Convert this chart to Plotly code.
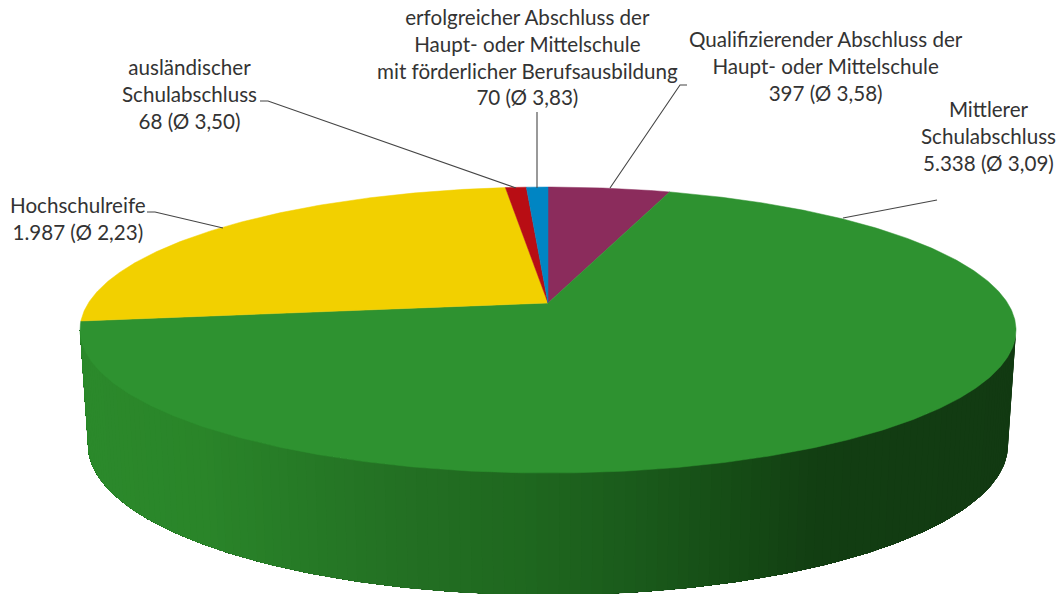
import math
import plotly.graph_objects as go

# --- data ---
categories = [
    "Qualifizierender Abschluss der<br>Haupt- oder Mittelschule",
    "Mittlerer<br>Schulabschluss",
    "Hochschulreife",
    "ausländischer<br>Schulabschluss",
    "erfolgreicher Abschluss der<br>Haupt- oder Mittelschule<br>mit förderlicher Berufsausbildung",
]
values = [397, 5338, 1987, 68, 70]
averages = [3.58, 3.09, 2.23, 3.50, 3.83]
colors = ["#8B2C5C", "#2E9230", "#F2D000", "#B80D14", "#0085C3"]
label_x = [826, 988, 78, 189, 527]
label_y = [65.5, 135.5, 218.5, 93.5, 56.5]
leaders = [
    ([610, 680, 687], [188, 85, 85]),
    ([937, 843], [200, 218]),
    ([147, 155, 223], [212, 212, 228]),
    ([260, 268, 516], [101, 101, 188]),
    ([537, 537], [112, 188]),
]
# wall shading: screen x -> colour
wall_stops = [(85, (43, 137, 43)), (200, (42, 133, 41)), (300, (38, 122, 38)),
              (400, (35, 112, 35)), (520, (31, 104, 31)), (640, (26, 90, 27)),
              (740, (21, 75, 21)), (820, (18, 62, 18)), (1010, (18, 58, 18))]

# --- perspective disc ---
CX, TOP_Y = 548.0, 303.0
K = -0.189
TOP_A, TOP_D = 137.9, 459.6
BOT_Y, BOT_A, BOT_D = 416.6, 144.7, 451.7


def project(theta, y0, a, d):
    u, v = math.sin(theta), -math.cos(theta)
    w = 1 + K * v
    return CX + d * u / w, y0 + a * v / w


def wall_color(x):
    for (x0, c0), (x1, c1) in zip(wall_stops, wall_stops[1:]):
        if x <= x1:
            t = max(0.0, (x - x0) / (x1 - x0))
            return "rgb(%d,%d,%d)" % tuple(round(p + (q - p) * t) for p, q in zip(c0, c1))
    return "rgb(%d,%d,%d)" % wall_stops[-1][1]


fig = go.Figure()
total = sum(values)

# side wall: painted right to left, each band running on to the left silhouette,
# so neighbouring bands never leave a seam
t_start = math.acos(K)
t_end = 2 * math.pi - t_start
N = 140
for i in range(N):
    a0 = t_start + (t_end - t_start) * i / N
    arc = [t_start + (t_end - t_start) * j / 240 for j in range(241)]
    arc = [a0] + [t for t in arc if t > a0]
    top = [project(t, TOP_Y, TOP_A, TOP_D) for t in arc]
    bot = [project(t, BOT_Y, BOT_A, BOT_D) for t in arc[::-1]]
    pts = top + bot + top[:1]
    col = wall_color(top[0][0] - 4)
    fig.add_trace(go.Scatter(
        x=[q[0] for q in pts], y=[q[1] for q in pts],
        mode="lines", fill="toself", fillcolor=col,
        line=dict(width=0), hoverinfo="skip", showlegend=False))

# top face slices
cum = 0
for cat, val, col in zip(categories, values, colors):
    a0 = 2 * math.pi * cum / total
    a1 = 2 * math.pi * (cum + val) / total
    cum += val
    steps = max(3, int((a1 - a0) * 120))
    pts = [project(a0 + (a1 - a0) * j / steps, TOP_Y, TOP_A, TOP_D) for j in range(steps + 1)]
    xs = [CX] + [q[0] for q in pts] + [CX]
    ys = [TOP_Y] + [q[1] for q in pts] + [TOP_Y]
    fig.add_trace(go.Scatter(
        x=xs, y=ys, mode="lines", fill="toself", fillcolor=col,
        line=dict(color=col, width=0.5), name=cat.replace("<br>", " "),
        hoverinfo="name", showlegend=False))

# leader lines
for lx, ly in leaders:
    fig.add_trace(go.Scatter(x=lx, y=ly, mode="lines", line=dict(color="#454545", width=1.1),
                             hoverinfo="skip", showlegend=False))

# labels
for cat, val, avg, x, y in zip(categories, values, averages, label_x, label_y):
    num = f"{val:,}".replace(",", ".")
    avg_txt = f"{avg:.2f}".replace(".", ",")
    fig.add_annotation(x=x, y=y, text=f"{cat}<br>{num} (Ø {avg_txt})", showarrow=False,
                       xanchor="center", yanchor="middle", align="center",
                       font=dict(family="Lato", size=20.6, color="#333333"))

fig.update_xaxes(range=[0, 1059], visible=False, fixedrange=True)
fig.update_yaxes(range=[594, 0], visible=False, fixedrange=True)
fig.update_layout(width=1059, height=594, margin=dict(l=0, r=0, t=0, b=0),
                  paper_bgcolor="white", plot_bgcolor="white", showlegend=False)
fig.write_html("out.html", config=dict(displayModeBar=False),
               post_script="document.body.style.margin='0';document.documentElement.style.overflow='hidden';")
